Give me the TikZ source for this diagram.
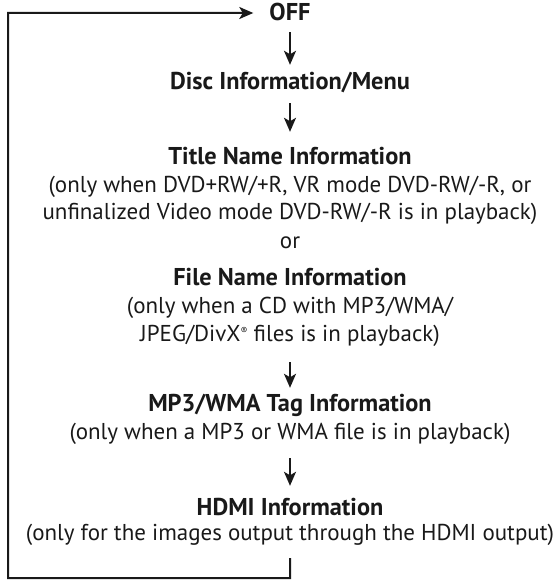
\documentclass[tikz,border=0pt]{standalone}
\usepackage{fontspec}
\setmainfont{PT Sans}
\usetikzlibrary{arrows.meta,calc}
\newlength\wref
\AtBeginDocument{%
  \settowidth\wref{\normalfont\fontsize{20bp}{24bp}\selectfont (only for the images output through the HDMI output)}%
  \pgfmathsetmacro\fsz{20*529.98/\wref}%
  \pgfmathsetmacro\hsz{1.06*\fsz}%
  \global\let\fsz\fsz\global\let\hsz\hsz}
\begin{document}
\begin{tikzpicture}[x=1bp,y=-1bp]
\tikzset{
  base/.style={anchor=base,inner sep=0pt,text height=16bp,text depth=5bp,
    font=\fontsize{\fsz bp}{\fsz bp}\selectfont,text=black!90},
  hd/.style={base,font=\fontsize{\hsz bp}{\hsz bp}\selectfont\bfseries},
  tx/.style={base},
  ln/.style={line width=2bp,draw=black!90},
  arr/.style={ln,-{Stealth[length=14bp,width=12bp,inset=3.5bp]}}
}
\useasboundingbox (0,0) rectangle (555,580);
\node[hd] (off) at (290,20.5) {OFF};
\node[hd] (disc) at (290,89.5) {Disc Information/Menu};
\node[hd] (title) at (290,164.5) {Title Name Information};
\node[tx] (t1) at (290,192.5) {(only when DVD+RW/+R, VR mode DVD-RW/-R, or};
\node[tx] (t2) at (290,219.5) {unfinalized Video mode DVD-RW/-R is in playback)};
\node[tx] (or) at (290,248) {or};
\node[hd] (file) at (290,285.5) {File Name Information};
\node[tx] (f1) at (290,313) {(only when a CD with MP3/WMA/};
\node[tx] (f2) at (290,341) {JPEG/DivX\raisebox{7bp}{\fontsize{10bp}{10bp}\selectfont\textregistered} files is in playback)};
\node[hd] (mp3) at (290,411) {MP3/WMA Tag Information};
\node[tx] (m1) at (290,439) {(only when a MP3 or WMA file is in playback)};
\node[hd] (hdmi) at (290,515.5) {HDMI Information};
\node[tx] (h1) at (290,540.5) {(only for the images output through the HDMI output)};
\draw[arr,shorten <=6.5bp,shorten >=8.5bp] (off) -- (disc);
\draw[arr,shorten <=8.5bp,shorten >=16.5bp] (disc) -- (title);
\draw[arr,shorten <=16bp,shorten >=7bp] (f2) -- (mp3);
\draw[arr,shorten <=14bp,shorten >=13.5bp] (m1) -- (hdmi);
\coordinate (stub) at ($(h1.south)+(0,12.5)$);
\coordinate (bl) at (8,578);
\coordinate (tl) at (8,13);
\draw[arr,shorten >=16bp] (stub) |- (bl) -- (tl) -- ([yshift=2bp]off.west);
\end{tikzpicture}
\end{document}
